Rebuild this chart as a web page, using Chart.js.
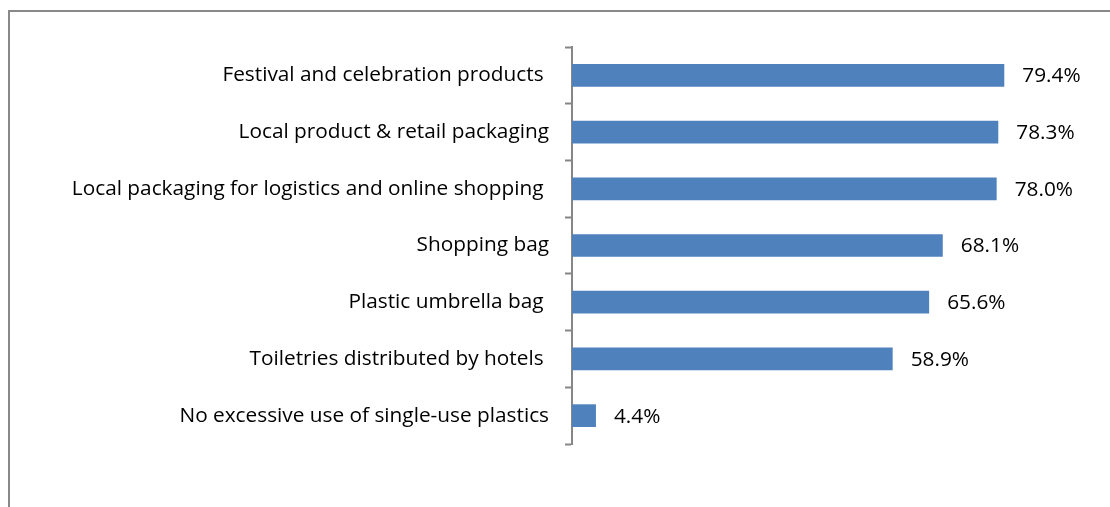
<!DOCTYPE html>
<html>
<head>
<meta charset="utf-8">
<script src="https://cdn.jsdelivr.net/npm/chart.js@4/dist/chart.umd.min.js"></script>
<style>
  body { margin: 0; background: #fff; }
  .wrap { position: relative; width: 1110px; height: 507px; overflow: hidden; }
  .frame { position: absolute; left: 8px; top: 10px; width: 1130px; height: 530px; border: 2px solid #898989; }
  canvas { position: absolute; left: 0; top: 0; }
</style>
</head>
<body>
<div class="wrap">
  <div class="frame"></div>
  <canvas id="chart" width="1110" height="507"></canvas>
</div>
<script>
// Categories and shares (%)
const categories = [
    'Festival and celebration products ',
    'Local product & retail packaging',
    'Local packaging for logistics and online shopping ',
    'Shopping bag',
    'Plastic umbrella bag ',
    'Toiletries distributed by hotels ',
    'No excessive use of single-use plastics'
];
const shares = [79.4, 78.3, 78.0, 68.1, 65.6, 58.9, 4.4];

const FONT = "'Open Sans', sans-serif";
const FONT_SIZE = 20.8;

// value labels to the right of each bar
const barLabels = {
    id: 'barLabels',
    afterDatasetsDraw(chart) {
        const ctx = chart.ctx;
        const meta = chart.getDatasetMeta(0);
        ctx.save();
        ctx.font = FONT_SIZE + 'px ' + FONT;
        ctx.fillStyle = '#000';
        ctx.textAlign = 'left';
        ctx.textBaseline = 'middle';
        meta.data.forEach((bar, i) => {
            ctx.fillText(shares[i].toFixed(1) + '%', bar.x + 18, bar.y + 1);
        });
        ctx.restore();
    }
};

new Chart(document.getElementById('chart').getContext('2d'), {
    type: 'bar',
    data: {
        labels: categories,
        datasets: [{
            data: shares,
            backgroundColor: '#4F81BD',
            borderWidth: 0,
            categoryPercentage: 1,
            barPercentage: 0.4
        }]
    },
    options: {
        indexAxis: 'y',
        responsive: false,
        animation: false,
        layout: { padding: { top: 47, bottom: 63, right: 48, left: 0 } },
        plugins: { legend: { display: false }, tooltip: { enabled: false } },
        scales: {
            x: { display: false, min: 0, max: 90 },
            y: {
                afterFit(scale) { scale.width = 572; },
                grid: {
                    offset: true,
                    drawOnChartArea: false,
                    tickLength: 7,
                    tickWidth: 2,
                    tickColor: '#868686'
                },
                border: { color: '#868686', width: 2 },
                ticks: {
                    padding: 16,
                    color: '#000',
                    font: { family: FONT, size: FONT_SIZE }
                }
            }
        }
    },
    plugins: [barLabels]
});
</script>
</body>
</html>
